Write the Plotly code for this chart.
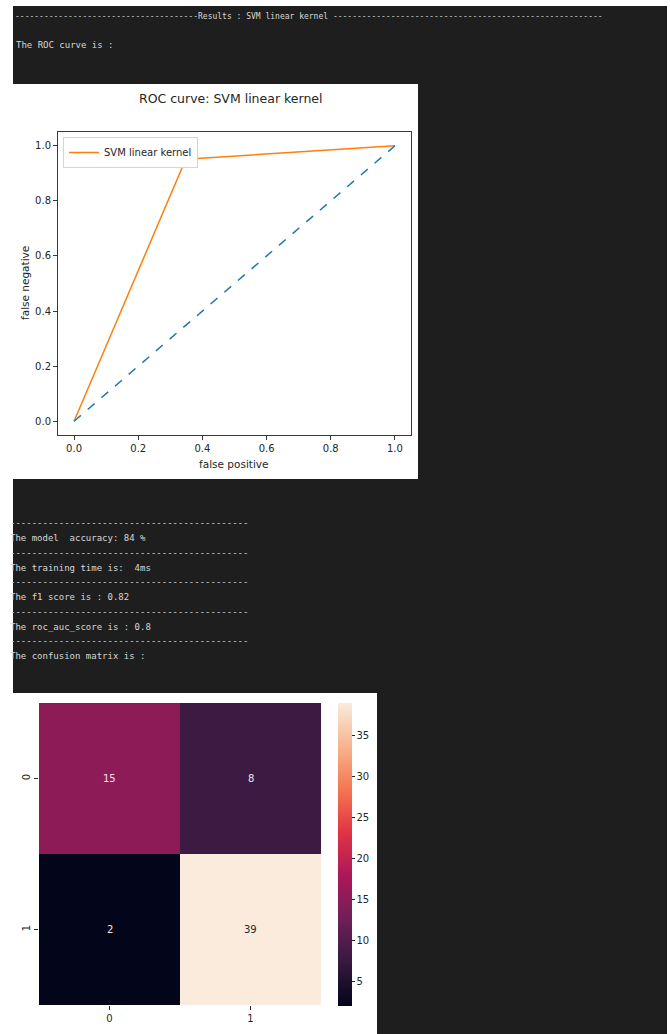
import plotly.graph_objects as go

W, H = 670, 1034

# ROC curve points and chance diagonal
fpr = [0.0, 0.348, 1.0]
tpr = [0.0, 0.951, 1.0]
diag = [0.0, 1.0]
model_name = "SVM linear kernel"

# Confusion matrix
cm_labels = ["0", "1"]
cm_values = [[15, 8],
             [2, 39]]

# Terminal output lines
header = "-" * 38 + "Results : " + model_name + " " + "-" * 56
roc_line = "The ROC curve is :"
report_lines = [
    "The model  accuracy: 84 %",
    "The training time is:  4ms",
    "The f1 score is : 0.82",
    "The roc_auc_score is : 0.8",
    "The confusion matrix is :",
]

# seaborn "rocket" colormap
rocket = [
    [0.0, "#03051a"], [1 / 7, "#35193e"], [2 / 7, "#701f57"], [3 / 7, "#ad1759"],
    [4 / 7, "#e13342"], [5 / 7, "#f37651"], [6 / 7, "#f6b48f"], [1.0, "#faebdd"],
]

TERM_BG = "#1e1e1e"
TERM_FG = "#d8d8d8"
MONO = "DejaVu Sans Mono"
SANS = "DejaVu Sans"
INK = "#262626"


def px(x):
    return x / W


def py(y):
    return 1 - y / H


fig = go.Figure()

fig.add_trace(go.Scatter(x=fpr, y=tpr, mode="lines", name=model_name,
                         line=dict(color="#ff7f0e", width=1.5),
                         xaxis="x", yaxis="y"))
fig.add_trace(go.Scatter(x=diag, y=diag, mode="lines", showlegend=False,
                         line=dict(color="#1f77b4", width=1.5, dash="dash"),
                         xaxis="x", yaxis="y"))

zmin = min(min(r) for r in cm_values)
zmax = max(max(r) for r in cm_values)
fig.add_trace(go.Heatmap(
    z=cm_values, x=cm_labels, y=cm_labels, xaxis="x2", yaxis="y2",
    colorscale=rocket, zmin=zmin, zmax=zmax, showscale=True, xgap=0, ygap=0,
    hoverinfo="skip",
    colorbar=dict(
        x=px(338), xanchor="left", xpad=0,
        y=py(703), yanchor="top", ypad=0,
        len=(1006 - 703) / H, lenmode="fraction",
        thickness=14, thicknessmode="pixels",
        outlinewidth=0,
        tickvals=[5, 10, 15, 20, 25, 30, 35],
        ticks="outside", ticklen=3, tickcolor=INK,
        tickfont=dict(family=SANS, size=10, color=INK),
    ),
))

shapes = [
    # terminal window
    dict(type="rect", xref="paper", yref="paper", layer="below",
         x0=px(13), x1=px(667), y0=py(1034), y1=py(6),
         fillcolor=TERM_BG, line=dict(width=0)),
    # ROC figure canvas
    dict(type="rect", xref="paper", yref="paper", layer="below",
         x0=px(13), x1=px(418), y0=py(479), y1=py(84),
         fillcolor="white", line=dict(width=0)),
    # confusion matrix figure canvas
    dict(type="rect", xref="paper", yref="paper", layer="below",
         x0=px(13), x1=px(377), y0=py(1034), y1=py(693),
         fillcolor="white", line=dict(width=0)),
]

annotations = []


def term_text(x, y, text, size):
    annotations.append(dict(
        xref="paper", yref="paper", x=px(x), y=py(y), text=text,
        showarrow=False, xanchor="left", yanchor="middle",
        font=dict(family=MONO, size=size, color=TERM_FG)))


term_text(13, 17, header, 8)
term_text(14, 45, roc_line, 9)

dash_row = "-" * 44
y0 = 523
for i, line in enumerate(report_lines):
    base = y0 + i * 29.5
    term_text(8, base, dash_row, 9)
    term_text(8, base + 15, line, 9)

# ROC titles
annotations.append(dict(xref="paper", yref="paper", x=px(231), y=py(99),
                        text="ROC curve: " + model_name, showarrow=False,
                        xanchor="center", yanchor="middle",
                        font=dict(family=SANS, size=12.5, color=INK)))
annotations.append(dict(xref="paper", yref="paper", x=px(234), y=py(464),
                        text="false positive", showarrow=False,
                        xanchor="center", yanchor="middle",
                        font=dict(family=SANS, size=10.5, color=INK)))
annotations.append(dict(xref="paper", yref="paper", x=px(25), y=py(283),
                        text="false negative", showarrow=False, textangle=-90,
                        xanchor="center", yanchor="middle",
                        font=dict(family=SANS, size=10.5, color=INK)))

# cell values on the confusion matrix
for r, row in enumerate(cm_values):
    for c, v in enumerate(row):
        frac = (v - zmin) / (zmax - zmin)
        annotations.append(dict(
            xref="x2", yref="y2", x=cm_labels[c], y=cm_labels[r], text=str(v),
            showarrow=False,
            font=dict(family=SANS, size=10,
                      color=INK if frac > 0.6 else "#f0e6ea")))

roc_axis = dict(showline=True, mirror=True, linecolor="#3a3a3a", linewidth=1,
                ticks="outside", ticklen=4, tickcolor="#3a3a3a",
                showgrid=False, zeroline=False,
                tickvals=[0, 0.2, 0.4, 0.6, 0.8, 1.0], tickformat=".1f",
                tickfont=dict(family=SANS, size=10, color=INK))

fig.update_layout(
    width=W, height=H, margin=dict(l=0, r=0, t=0, b=0),
    paper_bgcolor="white", plot_bgcolor="white",
    xaxis=dict(domain=[px(58), px(411)], range=[-0.05, 1.05], anchor="y",
               **roc_axis),
    yaxis=dict(domain=[py(435), py(132)], range=[-0.05, 1.05], anchor="x",
               **roc_axis),
    xaxis2=dict(domain=[px(39), px(321)], anchor="y2", showgrid=False,
                zeroline=False, ticks="outside", ticklen=4, tickcolor=INK,
                tickfont=dict(family=SANS, size=10, color=INK)),
    yaxis2=dict(domain=[py(1005), py(703)], anchor="x2", showgrid=False,
                zeroline=False, autorange="reversed", ticks="outside",
                ticklen=4, tickcolor=INK, tickangle=-90,
                tickfont=dict(family=SANS, size=10, color=INK)),
    showlegend=True,
    legend=dict(x=px(63), y=py(137), xanchor="left", yanchor="top",
                bgcolor="white", bordercolor="#d5d5d5", borderwidth=1,
                font=dict(family=SANS, size=10, color=INK),
                itemwidth=30, tracegroupgap=0),
    shapes=shapes,
    annotations=annotations,
)

fig.write_html("out.html")
